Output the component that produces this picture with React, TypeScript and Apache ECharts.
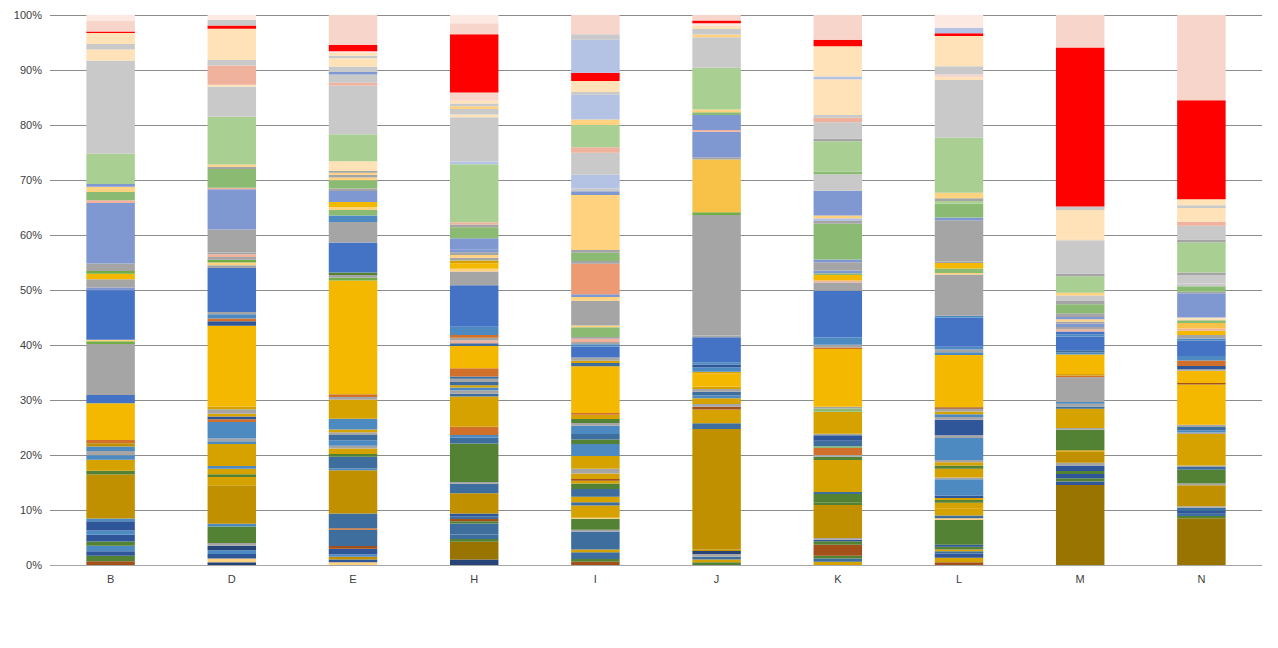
import * as echarts from 'echarts';
import React, { useEffect, useRef } from 'react';

const categories = ['B', 'D', 'E', 'H', 'I', 'J', 'K', 'L', 'M', 'N'];

const palette: Record<string, string> = {
  dg: '#9A7400', g: '#C09000', gd: '#D6A200', yl: '#F5B800', ly2: '#F8C147',
  db: '#264478', b2: '#30569A', b3: '#3E6E9E', sb: '#4E8AC2', bl: '#4472C4',
  gr: '#A5A5A5', dgn: '#548235', mg: '#8BBB73', gn: '#70AD47', or: '#D0702A',
  br: '#A3501A', lb: '#7F98D2', lb2: '#B4C2E4', lg: '#A9CF93', lgr: '#C9C9C9',
  sa: '#F0B19D', osa: '#ED9A72', ly: '#FFD27F', lo: '#FFE2B8', red: '#FF0000',
  pk: '#F8D5CB', pkl: '#FBE9E2',
};

// segments bottom -> top: [share %, colour key]
type Seg = [number, string];

const colB: Seg[] = [[0.7, 'br'], [1, 'dgn'], [0.8, 'b2'], [1, 'sb'], [0.8, 'dgn'], [1.2, 'b2'], [0.8, 'sb'], [1.7, 'b2'], [0.5, 'sb'], [8, 'g'], [0.7, 'dgn'], [2, 'gd'], [0.8, 'sb'], [0.8, 'gr'], [0.8, 'sb'], [0.6, 'g'], [0.6, 'or'], [6.7, 'yl'], [1.5, 'bl'], [9.3, 'gr'], [0.5, 'gn'], [0.3, 'ly'], [9, 'bl'], [0.5, 'lb'], [1.5, 'gr'], [1, 'yl'], [0.5, 'gn'], [1.4, 'gr'], [11, 'lb'], [0.5, 'sa'], [1.5, 'mg'], [1, 'ly'], [0.5, 'lb'], [5.5, 'lg'], [17, 'lgr'], [2, 'lo'], [1, 'lgr'], [2, 'lo'], [0.3, 'red'], [2, 'pk'], [1, 'pkl']];
const colD: Seg[] = [[0.5, 'db'], [0.7, 'ly'], [0.8, 'b2'], [0.7, 'sb'], [0.8, 'db'], [0.5, 'gr'], [3, 'dgn'], [0.5, 'sb'], [7, 'g'], [1.5, 'gd'], [0.5, 'dgn'], [1, 'gd'], [0.5, 'sb'], [4, 'gd'], [0.5, 'sb'], [0.5, 'gr'], [3, 'sb'], [0.5, 'or'], [0.5, 'b2'], [0.5, 'gd'], [0.8, 'gr'], [0.5, 'gd'], [14.7, 'yl'], [0.8, 'b2'], [0.5, 'or'], [0.8, 'sb'], [0.4, 'gr'], [8, 'bl'], [0.5, 'gr'], [0.5, 'ly'], [0.5, 'gn'], [0.5, 'gr'], [0.5, 'sa'], [0.3, 'gr'], [4.2, 'gr'], [7.3, 'lb'], [0.3, 'sa'], [3.4, 'mg'], [0.4, 'gr'], [0.4, 'ly'], [8.7, 'lg'], [5.5, 'lgr'], [0.3, 'lo'], [3.5, 'sa'], [1, 'lgr'], [5.7, 'lo'], [0.6, 'red'], [1, 'lgr'], [0.9, 'pkl']];
const colE: Seg[] = [[0.5, 'ly'], [0.5, 'b2'], [0.5, 'g'], [0.5, 'sb'], [1, 'b2'], [0.5, 'br'], [3, 'b3'], [0.3, 'or'], [2.7, 'b3'], [8, 'g'], [0.3, 'sb'], [2.2, 'b3'], [0.5, 'dgn'], [1, 'gd'], [0.5, 'gr'], [1, 'sb'], [1, 'b3'], [0.5, 'gr'], [0.5, 'gd'], [2, 'sb'], [3.5, 'gd'], [0.5, 'gr'], [0.5, 'or'], [21, 'yl'], [0.5, 'gn'], [0.5, 'gr'], [0.5, 'dgn'], [5.5, 'bl'], [3.8, 'gr'], [1.2, 'sb'], [1, 'mg'], [0.5, 'ly'], [1, 'yl'], [2, 'lb'], [0.5, 'gr'], [1.5, 'mg'], [0.5, 'ly'], [0.5, 'gr'], [0.4, 'ly'], [0.3, 'gr'], [1.8, 'lo'], [5, 'lg'], [9, 'lgr'], [0.5, 'sa'], [1.5, 'lgr'], [0.5, 'lb'], [1, 'lgr'], [1.5, 'lo'], [0.5, 'lgr'], [0.5, 'lo'], [0.3, 'pkl'], [1.2, 'red'], [5.5, 'pk']];
const colH: Seg[] = [[1, 'db'], [3.2, 'dg'], [0.5, 'dgn'], [0.8, 'b3'], [2, 'b3'], [0.4, 'dgn'], [0.4, 'br'], [0.5, 'b3'], [0.5, 'b2'], [3.7, 'g'], [1.7, 'b3'], [0.3, 'gr'], [7, 'dgn'], [1, 'b3'], [0.5, 'sb'], [1.5, 'or'], [5.5, 'gd'], [0.5, 'b3'], [0.6, 'gr'], [0.5, 'sb'], [0.4, 'gd'], [0.6, 'b3'], [0.6, 'gr'], [0.4, 'b3'], [1.5, 'or'], [4, 'yl'], [0.5, 'b3'], [0.5, 'sa'], [0.5, 'gr'], [0.5, 'or'], [1.5, 'sb'], [7.5, 'bl'], [2.5, 'gr'], [0.5, 'ly'], [1, 'yl'], [0.5, 'gd'], [0.5, 'gr'], [0.5, 'ly'], [0.5, 'gr'], [0.5, 'lb'], [2, 'lb'], [2, 'mg'], [0.5, 'gr'], [0.4, 'sa'], [10.5, 'lg'], [0.5, 'lb2'], [8, 'lgr'], [0.5, 'lo'], [1, 'lgr'], [0.5, 'ly'], [0.5, 'lgr'], [0.5, 'lo'], [1.5, 'pk'], [10.5, 'red'], [2, 'pk'], [1.5, 'pkl']];
const colI: Seg[] = [[0.6, 'br'], [0.5, 'dgn'], [1.2, 'b3'], [0.5, 'gd'], [3.3, 'b3'], [0.3, 'gr'], [2, 'dgn'], [0.2, 'ly'], [2.2, 'gd'], [0.6, 'b3'], [1, 'gd'], [1.4, 'b3'], [1, 'dgn'], [0.5, 'gd'], [0.3, 'br'], [1, 'gd'], [0.9, 'gr'], [2.3, 'gd'], [2.2, 'sb'], [0.8, 'dgn'], [1, 'b3'], [1.5, 'sb'], [0.5, 'gr'], [0.7, 'dgn'], [0.8, 'gd'], [0.3, 'or'], [8.5, 'yl'], [0.6, 'b3'], [0.4, 'gd'], [0.6, 'gr'], [2, 'bl'], [0.4, 'sb'], [0.4, 'gr'], [0.6, 'sa'], [0.3, 'gr'], [1.8, 'mg'], [0.3, 'ly'], [4.5, 'gr'], [0.7, 'ly'], [0.5, 'lb'], [5.5, 'osa'], [0.5, 'gr'], [1.5, 'mg'], [0.5, 'gr'], [10, 'ly'], [0.7, 'lb'], [0.5, 'lgr'], [2.5, 'lb2'], [4, 'lgr'], [1, 'sa'], [4, 'lg'], [1, 'ly'], [4.5, 'lb2'], [0.5, 'lgr'], [2, 'lo'], [1.5, 'red'], [6, 'lb2'], [1, 'lgr'], [3.5, 'pk']];
const colJ: Seg[] = [[0.5, 'dgn'], [0.5, 'gd'], [0.5, 'b3'], [0.5, 'gr'], [0.5, 'db'], [0.3, 'g'], [21.7, 'g'], [1, 'b3'], [2.5, 'gd'], [0.5, 'br'], [0.5, 'gr'], [1, 'gd'], [0.5, 'sb'], [0.7, 'b3'], [0.5, 'gr'], [0.4, 'gd'], [2.4, 'yl'], [0.3, 'gd'], [0.8, 'sb'], [0.5, 'b2'], [0.4, 'sb'], [4.5, 'bl'], [0.3, 'gr'], [21.7, 'gr'], [0.5, 'gn'], [9.5, 'ly2'], [0.4, 'gr'], [4.6, 'lb'], [0.3, 'sa'], [2.7, 'lb'], [0.5, 'mg'], [0.5, 'ly'], [7.5, 'lg'], [0.5, 'lgr'], [5, 'lgr'], [0.5, 'ly'], [1, 'lgr'], [0.5, 'lo'], [0.5, 'pkl'], [0.5, 'red'], [1, 'pk']];
const colK: Seg[] = [[0.6, 'gd'], [0.6, 'b3'], [0.5, 'dgn'], [2, 'br'], [0.6, 'dgn'], [0.3, 'b2'], [0.3, 'gr'], [6, 'g'], [0.5, 'dgn'], [1.5, 'dgn'], [0.4, 'b3'], [5.8, 'gd'], [0.6, 'dgn'], [0.3, 'gr'], [1.3, 'or'], [0.3, 'mg'], [1, 'b3'], [1, 'b2'], [0.3, 'gr'], [4, 'gd'], [0.6, 'mg'], [0.3, 'gr'], [10.5, 'yl'], [0.3, 'or'], [0.5, 'gr'], [1.3, 'sb'], [8.5, 'bl'], [0.5, 'gr'], [1, 'gr'], [0.4, 'sa'], [1, 'yl'], [0.3, 'mg'], [0.5, 'lb'], [1.5, 'gr'], [0.5, 'lb'], [6.5, 'mg'], [0.5, 'gr'], [0.5, 'lb2'], [0.5, 'ly'], [1, 'lb'], [3.5, 'lb'], [3, 'lgr'], [0.5, 'mg'], [5.5, 'lg'], [0.5, 'gr'], [3, 'lgr'], [0.8, 'sa'], [0.5, 'lgr'], [6.5, 'lo'], [0.5, 'lb2'], [5.5, 'lo'], [1.2, 'red'], [4.5, 'pk']];
const colL: Seg[] = [[0.5, 'br'], [0.8, 'gd'], [0.8, 'b2'], [0.4, 'b3'], [0.3, 'gd'], [0.5, 'dgn'], [0.4, 'b2'], [4.5, 'dgn'], [0.3, 'ly'], [0.5, 'b3'], [1.3, 'gd'], [1, 'gd'], [0.5, 'dgn'], [0.4, 'gd'], [0.4, 'b2'], [3, 'sb'], [0.3, 'gr'], [1, 'gd'], [0.6, 'gd'], [0.6, 'dgn'], [0.6, 'gd'], [0.4, 'gr'], [4, 'sb'], [0.5, 'gr'], [2.8, 'b2'], [0.5, 'gr'], [0.5, 'sb'], [0.5, 'gd'], [0.5, 'gr'], [0.3, 'br'], [9.5, 'yl'], [0.5, 'sb'], [0.5, 'gr'], [0.5, 'sb'], [5.3, 'bl'], [0.3, 'sb'], [7.5, 'gr'], [0.3, 'ly'], [0.8, 'mg'], [1, 'yl'], [0.3, 'gr'], [7.5, 'gr'], [0.5, 'lb'], [2.5, 'mg'], [0.5, 'lg'], [0.5, 'gr'], [1, 'ly'], [10, 'lg'], [10.5, 'lgr'], [0.5, 'lo'], [0.5, 'pk'], [1.5, 'lgr'], [5.5, 'lo'], [0.5, 'red'], [1, 'lb2'], [2.3, 'pkl']];
const colM: Seg[] = [[14.5, 'dg'], [0.6, 'b2'], [0.6, 'dgn'], [0.8, 'b2'], [0.5, 'dgn'], [1, 'b2'], [0.5, 'gr'], [2, 'g'], [0.3, 'gd'], [3.7, 'dgn'], [0.3, 'gr'], [3.5, 'gd'], [0.4, 'b3'], [0.5, 'gr'], [0.3, 'sb'], [4.5, 'gr'], [0.3, 'or'], [0.3, 'gd'], [3.5, 'yl'], [0.4, 'sb'], [0.4, 'b3'], [2.5, 'bl'], [0.4, 'sb'], [0.5, 'bl'], [0.4, 'sa'], [0.4, 'gr'], [0.6, 'lb'], [0.4, 'gr'], [0.4, 'ly'], [0.4, 'lb'], [0.7, 'gr'], [1.6, 'mg'], [0.6, 'gr'], [1, 'lgr'], [0.5, 'ly'], [3, 'lg'], [0.5, 'gr'], [6, 'lgr'], [0.5, 'lo'], [5, 'lo'], [0.6, 'lgr'], [28.8, 'red'], [5.9, 'pk']];
const colN: Seg[] = [[8.5, 'dg'], [0.4, 'dgn'], [0.4, 'b3'], [0.5, 'b2'], [0.6, 'b3'], [0.3, 'gr'], [3.8, 'g'], [0.3, 'gr'], [2.5, 'dgn'], [0.5, 'b3'], [0.3, 'gr'], [5.7, 'gd'], [0.3, 'gr'], [0.4, 'sb'], [0.6, 'b3'], [0.4, 'gr'], [7.3, 'yl'], [0.3, 'br'], [2.2, 'yl'], [0.3, 'gr'], [0.6, 'b2'], [1, 'or'], [0.8, 'sb'], [2.8, 'bl'], [0.4, 'sb'], [0.6, 'gr'], [0.8, 'yl'], [0.4, 'sa'], [1, 'ly2'], [0.5, 'mg'], [0.5, 'lo'], [4.4, 'lb'], [0.3, 'gr'], [1, 'mg'], [0.5, 'lgr'], [1.5, 'lgr'], [0.5, 'gr'], [5.5, 'lg'], [0.5, 'gr'], [2.5, 'lgr'], [0.7, 'sa'], [2.5, 'lo'], [0.5, 'lgr'], [1.1, 'lo'], [18, 'red'], [15.5, 'pk']];

const columns: Seg[][] = [colB, colD, colE, colH, colI, colJ, colK, colL, colM, colN];

const App: React.FC = () => {
  const chartRef = useRef<HTMLDivElement>(null);

  useEffect(() => {
    if (!chartRef.current) return;
    const chart = echarts.init(chartRef.current, null, { renderer: 'svg' });
    const maxSeg = Math.max(...columns.map((c) => c.length));
    const totals = columns.map((c) => c.reduce((s, x) => s + x[0], 0));
    const series: any[] = [];
    for (let i = 0; i < maxSeg; i++) {
      series.push({
        type: 'bar',
        stack: 'total',
        barWidth: '40%',
        silent: true,
        data: columns.map((c, ci) =>
          c[i]
            ? { value: (c[i][0] / totals[ci]) * 100, itemStyle: { color: palette[c[i][1]] } }
            : { value: 0 }
        ),
      });
    }
    chart.setOption({
      animation: false,
      grid: { left: 42, right: 8, top: 7, bottom: 75 },
      xAxis: {
        type: 'category',
        data: categories,
        axisLine: { lineStyle: { color: '#A6A6A6' } },
        axisTick: { lineStyle: { color: '#A6A6A6' } },
        axisLabel: { color: '#404040', fontFamily: 'Liberation Sans', fontSize: 11 },
      },
      yAxis: {
        type: 'value',
        min: 0,
        max: 100,
        interval: 10,
        axisLabel: { formatter: '{value}%', color: '#404040', fontFamily: 'Liberation Sans', fontSize: 11 },
        splitLine: { lineStyle: { color: '#8C8C8C' } },
      },
      series,
    });
    return () => chart.dispose();
  }, []);

  return <div ref={chartRef} style={{ width: 1262, height: 632 }} />;
};

export default App;
